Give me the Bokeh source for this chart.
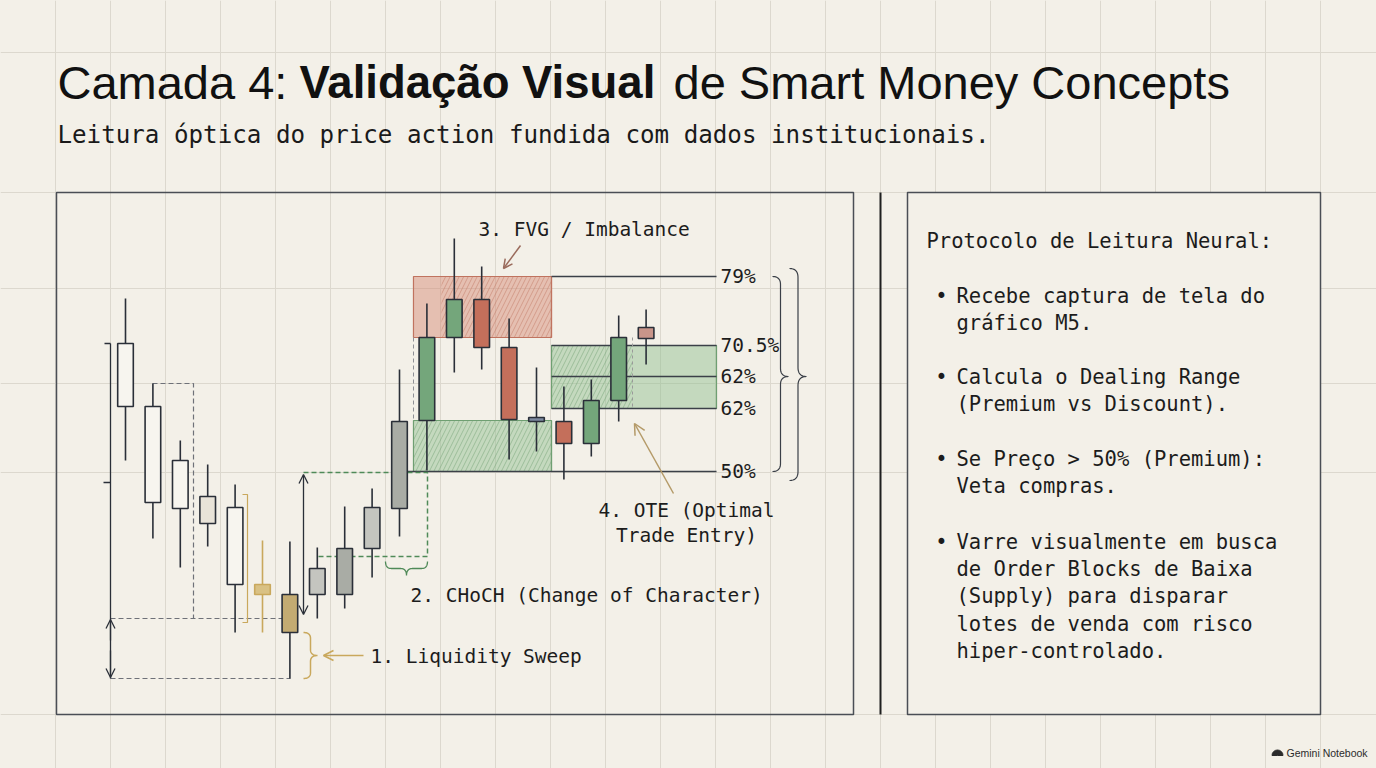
import numpy as np
from bokeh.plotting import figure
from bokeh.models import Range1d, Arrow, OpenHead
from bokeh.core.properties import value
from bokeh.embed import file_html
from bokeh.resources import INLINE

# ---------------- data ----------------
candle_idx = list(range(20))
candle_open = [133.5, 127.2, 121.8, 118.2, 117.1, 109.4, 108.4, 108.4, 108.4, 113.0,
               117.0, 125.8, 134.1, 137.9, 133.1, 126.1, 125.7, 123.5, 127.8, 135.1]
candle_high = [138.0, 129.5, 123.8, 121.4, 119.4, 113.8, 113.7, 113.1, 117.2, 119.0,
               130.9, 137.5, 144.0, 141.2, 136.0, 131.1, 129.2, 129.9, 136.3, 136.9]
candle_low = [121.8, 114.0, 111.1, 113.2, 104.6, 104.6, 100.0, 106.0, 107.0, 110.1,
              114.2, 120.8, 130.6, 130.9, 121.9, 122.7, 119.9, 122.2, 125.7, 131.4]
candle_close = [127.2, 117.6, 117.0, 115.5, 109.4, 108.4, 104.6, 111.0, 113.0, 117.1,
                125.7, 134.1, 137.9, 133.1, 125.9, 125.7, 123.5, 127.8, 134.1, 134.0]
candle_kind = ["hollow", "hollow", "hollow", "pale", "hollow", "sweep_wick", "sweep",
               "gray", "gray2", "gray", "gray2", "bull", "bull", "bear", "bear", "doji",
               "bear", "bull", "bull", "fade"]

zone_names = ["FVG", "OB", "OTE"]
zone_left = [10.51, 10.51, 15.55]
zone_right = [15.55, 15.55, 21.57]
zone_top = [140.2, 125.8, 133.3]
zone_bottom = [134.1, 120.7, 127.0]
zone_hatch_left = [11.53, 10.51, 15.55]
zone_hatch_right = [15.55, 15.55, 18.50]

fib_labels = ["79%", "70.5%", "62%", "62%", "50%"]
fib_prices = [140.2, 133.3, 130.2, 127.0, 120.7]
fib_start = [15.55, 15.55, 15.55, 15.55, 10.3]
fib_end = 21.57

title_parts = ["Camada 4: ", "Validação Visual", "de Smart Money Concepts"]
subtitle = "Leitura óptica do price action fundida com dados institucionais."
panel_heading = "Protocolo de Leitura Neural:"
bullets = [
    ["Recebe captura de tela do", "gráfico M5."],
    ["Calcula o Dealing Range", "(Premium vs Discount)."],
    ["Se Preço > 50% (Premium):", "Veta compras."],
    ["Varre visualmente em busca", "de Order Blocks de Baixa",
     "(Supply) para disparar", "lotes de venda com risco", "hiper-controlado."],
]
callout_sweep = "1. Liquidity Sweep"
callout_choch = "2. CHoCH (Change of Character)"
callout_fvg = "3. FVG / Imbalance"
callout_ote = ["4. OTE (Optimal", "Trade Entry)"]
watermark = "Gemini Notebook"

# ---------------- styles ----------------
BG = "#f3f0e8"
INK = "#1c1c1c"
DARK = "#2a2f38"
GRID = "#dcd8ce"
GOLD = "#c9a85c"
GREEN_LINE = "#6f9f72"
RED_LINE = "#c0735f"
MONO = value("DejaVu Sans Mono")
SANS = value("Liberation Sans")

fill_map = {"hollow": "#f7f5ef", "pale": "#e8e3d8", "sweep_wick": "#d9c184",
            "sweep": "#c3ab72", "gray": "#c4c5bf", "gray2": "#a9aca5",
            "bull": "#74a67b", "bear": "#c46f5b", "doji": "#7d8aa0", "fade": "#c9958a"}
line_map = {k: DARK for k in fill_map}
line_map["sweep_wick"] = GOLD

W, H = 1376, 768


def X(px):
    return (px - 125.0) / 27.4


def Y(py):
    return 100.0 + (678.0 - py) * 0.1


p = figure(width=W, height=H, x_range=Range1d(X(0), X(W)), y_range=Range1d(Y(H), Y(0)),
           output_backend="svg", toolbar_location=None, min_border=0,
           x_axis_location=None, y_axis_location=None, title=None,
           background_fill_color=BG, border_fill_color=BG, outline_line_color=None)
p.grid.visible = False

# ---- notebook grid ----
gx = [55 * k for k in range(1, 25)]
p.segment(x0=[X(g) for g in gx], y0=[Y(0)] * len(gx), x1=[X(g) for g in gx], y1=[Y(768)] * len(gx),
          line_color=GRID, line_width=1)
gy = [52, 192, 288, 383, 472, 714]
p.segment(x0=[X(0)] * len(gy), y0=[Y(g) for g in gy], x1=[X(1376)] * len(gy), y1=[Y(g) for g in gy],
          line_color=GRID, line_width=1)

# ---- panels ----
p.quad(left=[X(56)], right=[X(853)], top=[Y(192)], bottom=[Y(714)], fill_alpha=0,
       line_color="#4a4e55", line_width=1.5)
p.quad(left=[X(907)], right=[X(1320)], top=[Y(192)], bottom=[Y(714)], fill_color=BG,
       line_color="#4a4e55", line_width=1.5)
p.segment(x0=[X(880)], y0=[Y(192)], x1=[X(880)], y1=[Y(714)], line_color="#1f1f1f", line_width=2)

# ---- zones ----
zfill = ["#d48873", "#8fbf8f", "#8fbf8f"]
zline = [RED_LINE, GREEN_LINE, GREEN_LINE]
p.quad(left=zone_left, right=zone_right, top=zone_top, bottom=zone_bottom,
       fill_color=zfill, fill_alpha=0.47, line_color=zline, line_width=1.2)
p.quad(left=zone_hatch_left, right=zone_hatch_right, top=zone_top, bottom=zone_bottom,
       fill_alpha=0, line_alpha=0, hatch_pattern="/", hatch_color=zline, hatch_alpha=0.6,
       hatch_scale=9, hatch_weight=0.8)

# ---- fib levels ----
p.segment(x0=fib_start, y0=fib_prices, x1=[fib_end] * len(fib_prices), y1=fib_prices,
          line_color="#3b4048", line_width=1.3)
p.text(x=[X(720)] * len(fib_labels), y=fib_prices, text=fib_labels, text_font=MONO,
       text_font_size=value("19.5px"), text_color=INK, text_baseline="middle", text_align="left")


def seg(pts, color, width=1.2, dash="solid", alpha=1.0):
    xs = [X(a) for a, b in pts]
    ys = [Y(b) for a, b in pts]
    p.line(xs, ys, line_color=color, line_width=width, line_dash=dash, line_alpha=alpha)


# ---- structure lines ----
GRAYD = "#6e7178"
seg([(152, 383), (193, 383), (193, 618)], GRAYD, 1.2, "5 3")
seg([(110, 618), (297, 618)], GRAYD, 1.2, "5 3")
seg([(110, 678), (290, 678)], GRAYD, 1.2, "5 3")
seg([(413, 337), (413, 420)], "#8f9096", 1.0, "4 3")
seg([(632, 337), (632, 408)], "#9a9a9a", 1.0, "3 3")
seg([(303, 472), (427, 472), (427, 556), (317, 556)], "#4f8a58", 1.5, "5 3")

seg([(110, 343), (110, 678)], DARK, 1.3)
seg([(104, 343), (110, 343)], DARK, 1.3)
seg([(103, 482), (110, 482)], DARK, 1.3)
seg([(242, 494), (247, 494), (247, 622), (242, 622)], GOLD, 1.2)


def arrow(x0, y0, x1, y1, color, both=False, size=9, width=1.3):
    head = OpenHead(size=size, line_color=color, line_width=width)
    kw = {}
    if both:
        kw["start"] = OpenHead(size=size, line_color=color, line_width=width)
    p.add_layout(Arrow(end=head, x_start=X(x0), y_start=Y(y0), x_end=X(x1), y_end=Y(y1),
                       line_color=color, line_width=width, **kw))


arrow(110, 640, 110, 619, DARK)
arrow(110, 650, 110, 677, DARK)
arrow(303, 474, 303, 614, DARK, both=True)
arrow(363, 655, 323, 655, GOLD, width=1.6, size=10)
arrow(520, 245, 503, 268, "#9a6b5c", width=1.5)
arrow(673, 493, 634, 423, "#b49a68", width=1.5, size=11)

# ---- candles ----
c_fill = [fill_map[k] for k in candle_kind]
c_line = [line_map[k] for k in candle_kind]
c_top = [max(o, c) for o, c in zip(candle_open, candle_close)]
c_bot = [min(o, c) for o, c in zip(candle_open, candle_close)]
p.segment(x0=candle_idx, y0=candle_low, x1=candle_idx, y1=candle_high, line_color=c_line, line_width=1.6)
p.vbar(x=candle_idx, width=0.57, top=c_top, bottom=c_bot, fill_color=c_fill, line_color=c_line,
       line_width=1.6)


# ---- braces ----
def brace(a0, a1, tip, c0, depth, r, vertical=True, color=DARK, width=1.3):
    def qb(P0, C, P1, n=14):
        t = np.linspace(0, 1, n)[:, None]
        P0, C, P1 = np.array(P0, float), np.array(C, float), np.array(P1, float)
        return (1 - t) ** 2 * P0 + 2 * (1 - t) * t * C + t ** 2 * P1
    mid = c0 + depth / 2.0
    end = c0 + depth
    s = np.sign(a1 - a0)
    pts = np.vstack([
        qb((a0, c0), (a0, mid), (a0 + s * r, mid)),
        qb((tip - s * r, mid), (tip, mid), (tip, end)),
        qb((tip, end), (tip, mid), (tip + s * r, mid)),
        qb((a1 - s * r, mid), (a1, mid), (a1, c0)),
    ])
    if vertical:
        xs, ys = pts[:, 1], pts[:, 0]
    else:
        xs, ys = pts[:, 0], pts[:, 1]
    p.line([X(v) for v in xs], [Y(v) for v in ys], line_color=color, line_width=width)


brace(632, 678, 655, 303, 14, 6, vertical=True, color=GOLD, width=1.5)
brace(385, 427, 406, 561, 14, 6, vertical=False, color="#4f8a58", width=1.3)
brace(276, 471, 376, 772, 16, 8, vertical=True, color="#3b4048", width=1.2)
brace(268, 480, 376, 789, 17, 9, vertical=True, color="#3b4048", width=1.2)


# ---- text helper (y = visual centre of the line) ----
def txt(xs, ys, texts, font=MONO, size="19.5px", align="left", style="normal", color=INK):
    p.text(x=[X(v) for v in xs], y=[Y(v) for v in ys], text=texts, text_font=font,
           text_font_size=value(size), text_align=align, text_font_style=style,
           text_color=color, text_baseline="middle")


txt([370], [656], [callout_sweep])
txt([410], [594.5], [callout_choch])
txt([478], [228.5], [callout_fvg])
txt([686, 686], [510, 535], callout_ote, align="center")

# ---- right panel ----
txt([926], [240], [panel_heading], size="20.5px")
starts = [295, 376.5, 458.5, 541]
bx, by, bt = [], [], []
for start, item in zip(starts, bullets):
    txt([941], [start], ["•"], size="20.5px", align="center")
    for j, line in enumerate(item):
        bx.append(956)
        by.append(start + j * 27.4)
        bt.append(line)
txt(bx, by, bt, size="20.5px")

# ---- title ----
txt([57], [82], [title_parts[0]], font=SANS, size="47px", color="#111111")
txt([299], [82], [title_parts[1]], font=SANS, size="45.5px", style="bold", color="#111111")
txt([673], [82], [title_parts[2]], font=SANS, size="47px", color="#111111")
txt([57], [134], [subtitle], size="24.2px", color="#1a1a1a")

# ---- watermark ----
p.wedge(x=[X(1277)], y=[Y(755)], radius=5.5, radius_units="screen", start_angle=0,
        end_angle=np.pi, color="#2b2b2b")
txt([1286], [752], [watermark], font=SANS, size="10.5px", color="#2b2b2b")

html = file_html(p, INLINE, title="Camada 4")
html = html.replace("</head>", "<style>html,body{background:#f3f0e8;overflow:hidden;}</style></head>", 1)
open("out.html", "w").write(html)
